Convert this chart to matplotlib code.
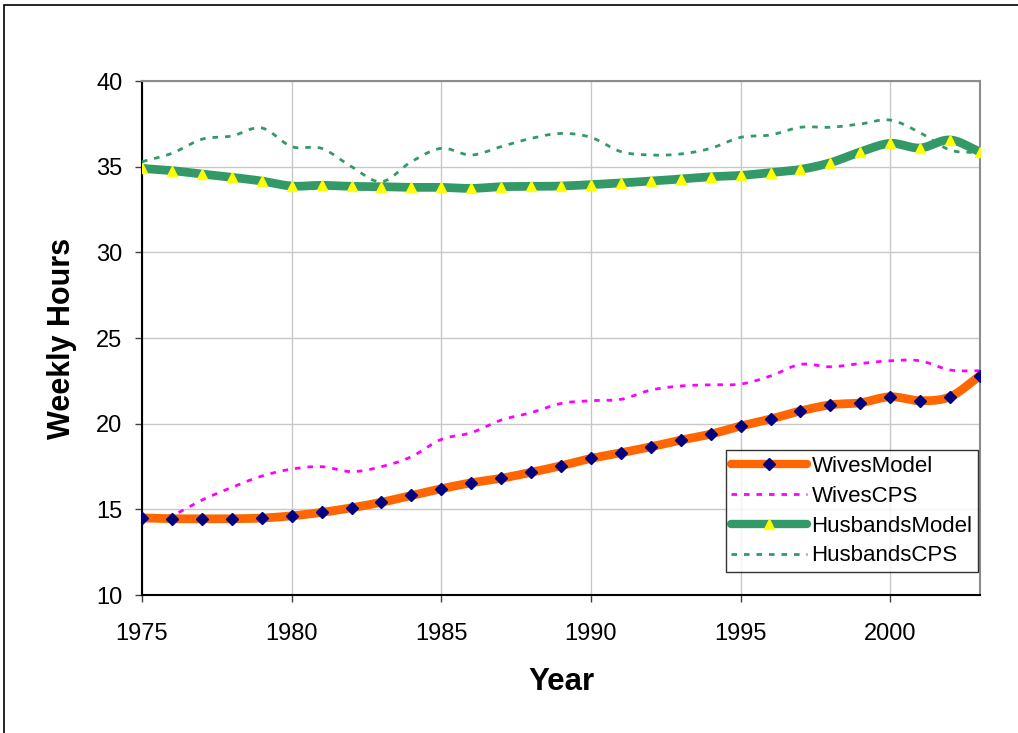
import numpy as np
import matplotlib.pyplot as plt
from matplotlib.lines import Line2D
from matplotlib.patches import Rectangle

plt.rcParams['font.family'] = ['Liberation Sans', 'DejaVu Sans']

years = np.arange(1975, 2004)
wives_model = [14.50, 14.45, 14.45, 14.45, 14.49, 14.62, 14.82, 15.09, 15.41, 15.81,
               16.20, 16.55, 16.81, 17.16, 17.54, 17.97, 18.30, 18.65, 19.04, 19.39,
               19.86, 20.27, 20.74, 21.10, 21.22, 21.57, 21.34, 21.57, 22.80]
wives_cps = [14.40, 14.66, 15.54, 16.28, 16.94, 17.35, 17.49, 17.20, 17.49, 18.07,
             19.08, 19.47, 20.21, 20.64, 21.18, 21.34, 21.42, 21.96, 22.20, 22.27,
             22.31, 22.78, 23.46, 23.32, 23.51, 23.67, 23.67, 23.13, 23.09]
husbands_model = [34.90, 34.77, 34.57, 34.38, 34.16, 33.87, 33.91, 33.85, 33.83, 33.79,
                  33.79, 33.73, 33.83, 33.85, 33.87, 33.95, 34.05, 34.16, 34.28, 34.41,
                  34.49, 34.65, 34.84, 35.23, 35.86, 36.36, 36.09, 36.56, 35.86]
husbands_cps = [35.29, 35.78, 36.60, 36.79, 37.26, 36.17, 36.07, 35.00, 34.12, 35.29,
                36.07, 35.68, 36.17, 36.65, 36.94, 36.71, 35.88, 35.68, 35.74, 36.07,
                36.71, 36.85, 37.30, 37.30, 37.49, 37.72, 36.98, 35.97, 35.82]


def smooth(x, y, n=12):
    # Catmull-Rom curve through the points (like a "smoothed line" chart)
    x = np.asarray(x, float)
    y = np.asarray(y, float)
    px = np.concatenate([[2 * x[0] - x[1]], x, [2 * x[-1] - x[-2]]])
    py = np.concatenate([[2 * y[0] - y[1]], y, [2 * y[-1] - y[-2]]])
    t = np.linspace(0, 1, n, endpoint=False)
    xs, ys = [], []
    for i in range(1, len(px) - 2):
        for p, out in ((px, xs), (py, ys)):
            p0, p1, p2, p3 = p[i - 1], p[i], p[i + 1], p[i + 2]
            out.append(0.5 * (2 * p1 + (-p0 + p2) * t
                              + (2 * p0 - 5 * p1 + 4 * p2 - p3) * t ** 2
                              + (-p0 + 3 * p1 - 3 * p2 + p3) * t ** 3))
    xs.append([x[-1]])
    ys.append([y[-1]])
    return np.concatenate(xs), np.concatenate(ys)


fig = plt.figure(figsize=(10.18, 7.33), dpi=100)
fig.patches.append(Rectangle((4 / 1018, -0.1), 1.2, 1 - 5 / 733 + 0.1,
                             transform=fig.transFigure, fill=False,
                             edgecolor='black', linewidth=1.2))
ax = fig.add_axes([142 / 1018, 1 - 595 / 733, 838 / 1018, 514 / 733])

orange, navy = '#FF6600', '#000080'
green, yellow = '#339966', '#FFFF00'
magenta = '#FF00FF'

ax.plot(*smooth(years, husbands_cps), color=green, lw=2, ls=(0, (2, 2.5)), zorder=3)
ax.plot(*smooth(years, wives_cps), color=magenta, lw=2, ls=(0, (2, 2.5)), zorder=3)
ax.plot(*smooth(years, husbands_model), color=green, lw=6.3, solid_capstyle='round', zorder=4)
ax.plot(years, husbands_model, '^', color=yellow, ms=6.5, mec=yellow, zorder=5)
ax.plot(*smooth(years, wives_model), color=orange, lw=6.3, solid_capstyle='round', zorder=4)
ax.plot(years, wives_model, 'D', color=navy, ms=6.5, mec=navy, zorder=5)

ax.set_xlim(1975, 2003)
ax.set_ylim(10, 40)
ax.set_xticks(range(1975, 2004, 5))
ax.set_yticks(range(10, 41, 5))
ax.grid(True, color='#C8C8C8', lw=1)
ax.set_axisbelow(True)
ax.tick_params(labelsize=17, length=5, width=1, color='#404040')
ax.tick_params(axis='x', pad=15)
ax.tick_params(axis='y', pad=9)
for side in ('top', 'right'):
    ax.spines[side].set_color('#8C8C8C')
    ax.spines[side].set_linewidth(1.5)
for side in ('left', 'bottom'):
    ax.spines[side].set_color('black')
    ax.spines[side].set_linewidth(1.5)

ax.set_xlabel('Year', fontsize=22.5, fontweight='bold', labelpad=16)
ax.set_ylabel('Weekly Hours', fontsize=22, fontweight='bold', labelpad=14)

handles = [
    Line2D([], [], color=orange, lw=6, marker='D', ms=6.5, mfc=navy, mec=navy, solid_capstyle='round'),
    Line2D([], [], color=magenta, lw=2, ls=(0, (2, 2.5))),
    Line2D([], [], color=green, lw=6, marker='^', ms=6.5, mfc=yellow, mec=yellow, solid_capstyle='round'),
    Line2D([], [], color=green, lw=2, ls=(0, (2, 2.5))),
]
labels = ['WivesModel', 'WivesCPS', 'HusbandsModel', 'HusbandsCPS']
leg = ax.legend(handles, labels, loc='lower right', bbox_to_anchor=(0.9976, 0.0447),
                borderaxespad=0, fontsize=16, frameon=True, fancybox=False,
                edgecolor='black', handlelength=3.4, handletextpad=0.2,
                borderpad=0.25, labelspacing=0.4, numpoints=1)
leg.get_frame().set_linewidth(1.0)

fig.savefig('out.png', dpi=100)
